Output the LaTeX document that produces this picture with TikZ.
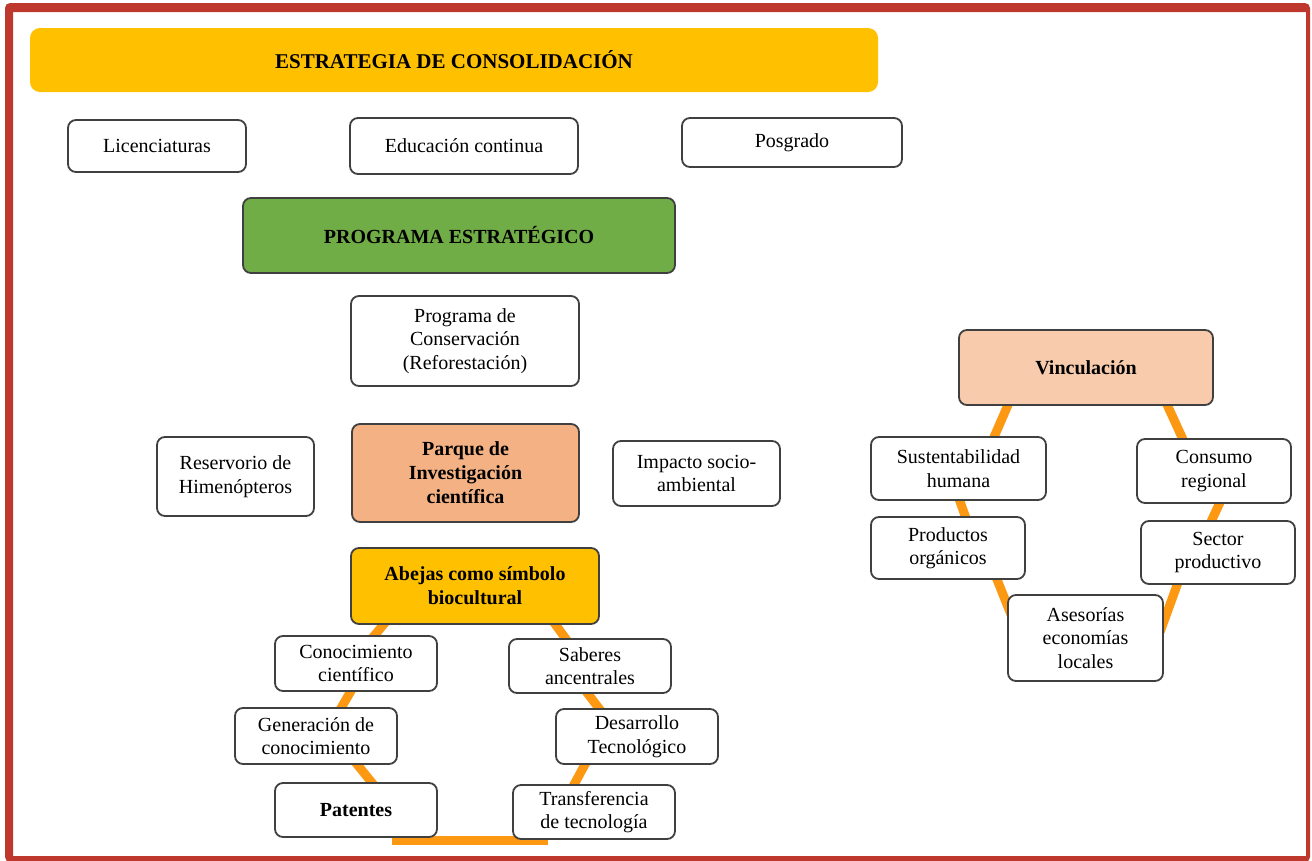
\documentclass[tikz,border=0pt]{standalone}
\usepackage{fontspec}
\setmainfont{Liberation Serif}
\usetikzlibrary{calc,backgrounds}

\definecolor{frame}{RGB}{190,56,46}
\definecolor{gold}{RGB}{255,192,0}
\definecolor{leaf}{RGB}{112,173,71}
\definecolor{salmon}{RGB}{244,177,131}
\definecolor{peach}{RGB}{248,203,173}
\definecolor{link}{RGB}{252,152,18}
\definecolor{edge}{RGB}{64,64,64}

\tikzset{
  box/.style={draw=edge, line width=1.8pt, rounded corners=8pt, fill=white,
    align=center, inner sep=2pt, outer sep=0pt,
    font=\fontsize{20}{23.5}\selectfont},
  keybox/.style={box, font=\fontsize{20}{24}\selectfont\bfseries},
  banner/.style={fill=gold, rounded corners=10pt, inner sep=0pt, outer sep=0pt,
    font=\fontsize{21}{24}\selectfont\bfseries},
  cycle/.style={draw=link, line width=9pt}
}

\begin{document}
\begin{tikzpicture}[x=1pt, y=-1pt]
\useasboundingbox (0,0) rectangle (1312,860);

% top strategy row
\node[banner, minimum width=848pt, minimum height=64pt] (banner) at (454,60)
  {ESTRATEGIA DE CONSOLIDACIÓN};
\node[box, minimum width=178pt, minimum height=52pt] (lic) at (157,146) {Licenciaturas};
\node[box, minimum width=228pt, minimum height=56pt] (edu) at (464,146) {Educación continua};
\node[box, minimum width=220pt, minimum height=49pt] (pos) at (792,142.5) {Posgrado};

\node[keybox, fill=leaf, minimum width=432pt, minimum height=75pt] (prog) at (459,235.5)
  {PROGRAMA ESTRATÉGICO};
\node[box, minimum width=228pt, minimum height=90pt] (cons) at (465,341)
  {Programa de\\Conservación\\(Reforestación)};

\node[box, minimum width=157pt, minimum height=79pt] (res) at (235.5,476.5)
  {Reservorio de\\Himenópteros};
\node[keybox, fill=salmon, minimum width=227pt, minimum height=98pt] (parque) at (465.5,473)
  {Parque de\\Investigación\\científica};
\node[box, minimum width=167pt, minimum height=65pt] (imp) at (696.5,473.5)
  {Impacto socio-\\ambiental};

% biocultural cycle
\node[keybox, fill=gold, minimum width=248pt, minimum height=76pt] (abejas) at (475,586)
  {Abejas como símbolo\\biocultural};
\node[box, minimum width=162pt, minimum height=55pt] (conoc) at (356,663.5)
  {Conocimiento\\científico};
\node[box, minimum width=162pt, minimum height=54pt] (saber) at (590,666)
  {Saberes\\ancentrales};
\node[box, minimum width=162pt, minimum height=56pt] (gen) at (316,736)
  {Generación de\\conocimiento};
\node[box, minimum width=162pt, minimum height=55pt] (des) at (637,736.5)
  {Desarrollo\\Tecnológico};
\node[keybox, minimum width=162pt, minimum height=54pt] (pat) at (356,810) {Patentes};
\node[box, minimum width=162pt, minimum height=54pt] (trans) at (594,812)
  {Transferencia\\de tecnología};

% linkage cycle
\node[keybox, fill=peach, minimum width=254pt, minimum height=75pt] (vinc) at (1086,367.5)
  {Vinculación};
\node[box, minimum width=175pt, minimum height=63pt] (sust) at (958.5,468.5)
  {Sustentabilidad\\humana};
\node[box, minimum width=154pt, minimum height=64pt] (consumo) at (1214,471)
  {Consumo\\regional};
\node[box, minimum width=154pt, minimum height=62pt] (prod) at (948,548)
  {Productos\\orgánicos};
\node[box, minimum width=154pt, minimum height=63pt] (sector) at (1218,552.5)
  {Sector\\productivo};
\node[box, minimum width=155pt, minimum height=86pt] (ases) at (1085.5,638)
  {Asesorías\\economías\\locales};

% outer frame
\fill[frame, even odd rule]
  [rounded corners=5pt] (5,3) rectangle (1310,862)
  [sharp corners] (13,12) rectangle (1306,856);

\begin{scope}[on background layer]
  \fill[white] (0,0) rectangle (1312,860);
  % biocultural cycle links
  \draw[cycle] ($(abejas.south west)+(38,-6)$) -- ($(conoc.north west)+(94,6)$);
  \draw[cycle] ($(conoc.south west)+(80,-7)$) -- ($(gen.north west)+(102,7)$);
  \draw[cycle] ($(gen.south west)+(117,-6)$) -- ($(pat.north west)+(102,6)$);
  \draw[cycle] ($(pat.south west)+(117,3)$) -- ($(trans.south west)+(35,1)$);
  \draw[cycle] ($(abejas.south west)+(199,-7)$) -- ($(saber.north west)+(62,7)$);
  \draw[cycle] ($(saber.south west)+(73,-7)$) -- ($(des.north west)+(48,6)$);
  \draw[cycle] ($(des.south west)+(33,-7)$) -- ($(trans.north west)+(57,7)$);
  % linkage cycle links
  \draw[cycle] ($(vinc.south west)+(52,-7)$) -- ($(sust.north west)+(120,7)$);
  \draw[cycle] ($(vinc.south west)+(205,-7)$) -- ($(consumo.north west)+(49,7)$);
  \draw[cycle] ($(sust.south west)+(86,-7)$) -- ($(prod.north west)+(97,7)$);
  \draw[cycle] ($(consumo.south west)+(86,-7)$) -- ($(sector.north west)+(67,7)$);
  \draw[cycle] ($(prod.south west)+(123,-7)$) -- ($(ases.north west)+(6,27)$);
  \draw[cycle] ($(sector.south west)+(39,-7)$) -- ($(ases.north east)+(-3,37)$);
\end{scope}
\end{tikzpicture}
\end{document}
